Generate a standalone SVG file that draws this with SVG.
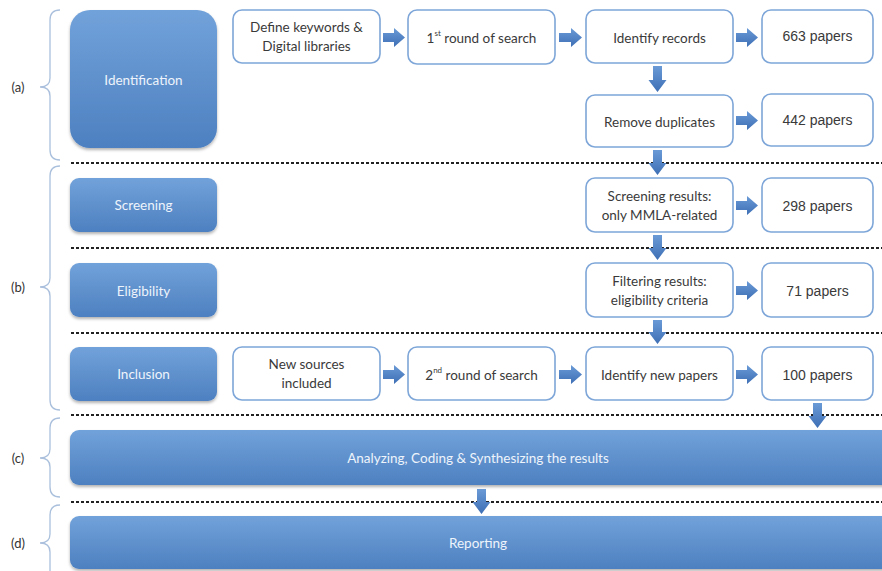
<svg xmlns="http://www.w3.org/2000/svg" width="882" height="571" viewBox="0 0 882 571">
<defs>
  <linearGradient id="gBlue" x1="0" y1="0" x2="0" y2="1">
    <stop offset="0" stop-color="#72a2da"/>
    <stop offset="1" stop-color="#4d80c0"/>
  </linearGradient>
  <linearGradient id="gArrow" x1="0" y1="0" x2="0" y2="1">
    <stop offset="0" stop-color="#6a9ad6"/>
    <stop offset="1" stop-color="#3e6fb5"/>
  </linearGradient>
  <filter id="sh" x="-10%" y="-10%" width="130%" height="140%">
    <feDropShadow dx="0" dy="2" stdDeviation="1.8" flood-color="#000" flood-opacity="0.3"/>
  </filter>
</defs>
<style>
  .blue{fill:url(#gBlue);filter:url(#sh)}
  .wbox{fill:#fff;stroke:#7ea6d8;stroke-width:1.6}
  .bt{font-family:Lato,"Open Sans",sans-serif;font-size:13.5px;fill:#eef4fb;text-anchor:middle;dominant-baseline:central}
  .t{font-family:Lato,"Open Sans",sans-serif;font-size:13.5px;fill:#3a3a3a;text-anchor:middle;dominant-baseline:central}
  .p{font-family:"Liberation Sans",Arial,sans-serif;font-size:14px;fill:#3a3a3a;text-anchor:middle;dominant-baseline:central}
  .lab{font-family:Lato,"Open Sans",sans-serif;font-size:13px;fill:#333;text-anchor:middle;dominant-baseline:central}
  .dash{stroke:#222;stroke-width:2;stroke-dasharray:3 2;fill:none}
  .brace{stroke:#aac0dc;stroke-width:1.3;fill:none}
  .arr{fill:url(#gArrow)}
</style>

<!-- separators and braces -->
<g id="separators">
  <line class="dash" x1="71" y1="163" x2="882" y2="163"/>
  <line class="dash" x1="71" y1="248" x2="882" y2="248"/>
  <line class="dash" x1="71" y1="333" x2="882" y2="333"/>
  <line class="dash" x1="71" y1="415" x2="882" y2="415"/>
  <line class="dash" x1="71" y1="502" x2="882" y2="502"/>
</g>
<g id="braces">
  <path class="brace" d="M60,10 Q50,10 50,20 L50,78 Q50,87 40,87 Q50,87 50,96 L50,150 Q50,160 60,160"/>
  <path class="brace" d="M60,166 Q50,166 50,176 L50,278 Q50,287 40,287 Q50,287 50,296 L50,400 Q50,410 60,410"/>
  <path class="brace" d="M60,418 Q50,418 50,428 L50,449 Q50,458 40,458 Q50,458 50,467 L50,487 Q50,497 60,497"/>
  <path class="brace" d="M60,505 Q50,505 50,515 L50,534 Q50,543 40,543 Q50,543 50,552 L50,571"/>
  <text class="lab" x="18" y="87">(a)</text>
  <text class="lab" x="18" y="287">(b)</text>
  <text class="lab" x="18" y="458">(c)</text>
  <text class="lab" x="18" y="543">(d)</text>
</g>

<!-- phase boxes -->
<g id="identification"><rect class="blue" x="70" y="10" width="147" height="138" rx="20"/><text class="bt" x="143.5" y="80">Identification</text></g>
<g id="screening"><rect class="blue" x="70" y="178" width="147" height="54" rx="9"/><text class="bt" x="143.5" y="205">Screening</text></g>
<g id="eligibility"><rect class="blue" x="70" y="263" width="147" height="54" rx="9"/><text class="bt" x="143.5" y="291">Eligibility</text></g>
<g id="inclusion"><rect class="blue" x="70" y="347" width="147" height="54" rx="9"/><text class="bt" x="143.5" y="374">Inclusion</text></g>
<g id="analyzing"><rect class="blue" x="70" y="430" width="830" height="55" rx="9"/><text class="bt" x="478" y="458">Analyzing, Coding &amp; Synthesizing the results</text></g>
<g id="reporting"><rect class="blue" x="70" y="516" width="830" height="53" rx="9"/><text class="bt" x="478" y="543">Reporting</text></g>

<!-- process boxes -->
<g id="define"><rect class="wbox" x="233" y="10" width="147" height="53" rx="9"/><text class="t" x="306.5" y="27">Define keywords &amp;</text><text class="t" x="306.5" y="46">Digital libraries</text></g>
<g id="round1"><rect class="wbox" x="408" y="10" width="147" height="54" rx="9"/><text class="t" x="481.5" y="38">1<tspan font-size="8" dy="-5">st</tspan><tspan dy="5"> round of search</tspan></text></g>
<g id="identify"><rect class="wbox" x="586" y="10" width="147" height="53" rx="9"/><text class="t" x="659.5" y="38">Identify records</text></g>
<g id="p663"><rect class="wbox" x="762" y="10" width="111" height="53" rx="9"/><text class="p" x="817.5" y="36">663 papers</text></g>
<g id="remove"><rect class="wbox" x="586" y="95" width="147" height="52" rx="9"/><text class="t" x="659.5" y="122">Remove duplicates</text></g>
<g id="p442"><rect class="wbox" x="762" y="94" width="111" height="52" rx="9"/><text class="p" x="817.5" y="120">442 papers</text></g>
<g id="screenres"><rect class="wbox" x="586" y="178" width="147" height="54" rx="9"/><text class="t" x="659.5" y="196">Screening results:</text><text class="t" x="659.5" y="215">only MMLA-related</text></g>
<g id="p298"><rect class="wbox" x="762" y="178" width="111" height="54" rx="9"/><text class="p" x="817.5" y="206">298 papers</text></g>
<g id="filter"><rect class="wbox" x="586" y="263" width="147" height="54" rx="9"/><text class="t" x="659.5" y="281">Filtering results:</text><text class="t" x="659.5" y="300">eligibility criteria</text></g>
<g id="p71"><rect class="wbox" x="762" y="263" width="111" height="54" rx="9"/><text class="p" x="817.5" y="291">71 papers</text></g>
<g id="newsources"><rect class="wbox" x="233" y="347" width="147" height="53" rx="9"/><text class="t" x="306.5" y="364">New sources</text><text class="t" x="306.5" y="383">included</text></g>
<g id="round2"><rect class="wbox" x="408" y="347" width="147" height="53" rx="9"/><text class="t" x="481.5" y="375">2<tspan font-size="8" dy="-5">nd</tspan><tspan dy="5"> round of search</tspan></text></g>
<g id="identifynew"><rect class="wbox" x="586" y="347" width="147" height="53" rx="9"/><text class="t" x="659.5" y="375">Identify new papers</text></g>
<g id="p100"><rect class="wbox" x="762" y="347" width="111" height="53" rx="9"/><text class="p" x="817.5" y="375">100 papers</text></g>

<!-- connectors -->
<g id="connectors">
  <polygon class="arr" points="383,33 394,33 394,28 405,37.5 394,47 394,42 383,42"/>
  <polygon class="arr" points="559,33 571,33 571,28 582,37.5 571,47 571,42 559,42"/>
  <polygon class="arr" points="736,33 747,33 747,28 758,37.5 747,47 747,42 736,42"/>
  <polygon class="arr" points="736,116 747,116 747,111 758,120.5 747,130 747,125 736,125"/>
  <polygon class="arr" points="736,201 747,201 747,196 758,205.5 747,215 747,210 736,210"/>
  <polygon class="arr" points="736,286 747,286 747,281 758,290.5 747,300 747,295 736,295"/>
  <polygon class="arr" points="383,370 394,370 394,365 405,374.5 394,384 394,379 383,379"/>
  <polygon class="arr" points="559,370 571,370 571,365 582,374.5 571,384 571,379 559,379"/>
  <polygon class="arr" points="736,370 747,370 747,365 758,374.5 747,384 747,379 736,379"/>
  <polygon class="arr" points="653,66 662,66 662,80 666.5,80 657.5,92 648.5,80 653,80"/>
  <polygon class="arr" points="653,150 662,150 662,163 666.5,163 657.5,175 648.5,163 653,163"/>
  <polygon class="arr" points="653,235 662,235 662,248 666.5,248 657.5,260 648.5,248 653,248"/>
  <polygon class="arr" points="653,320 662,320 662,332 666.5,332 657.5,344 648.5,332 653,332"/>
  <polygon class="arr" points="813,403 822,403 822,416 826.5,416 817.5,428 808.5,416 813,416"/>
  <polygon class="arr" points="477,489 486,489 486,502 490.5,502 481.5,514 472.5,502 477,502"/>
</g>
</svg>
